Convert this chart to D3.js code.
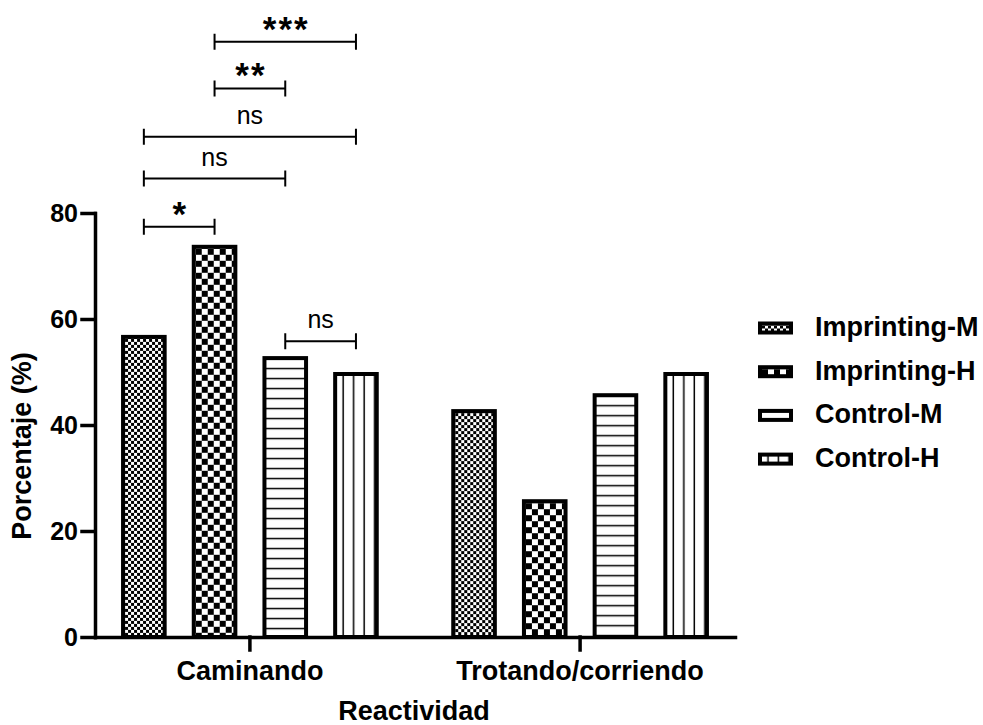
<!DOCTYPE html>
<html>
<head>
<meta charset="utf-8">
<script src="https://cdn.jsdelivr.net/npm/d3@7"></script>
<style>
  body { margin: 0; background: #fff; }
  text { font-family: "Liberation Sans", Arial, sans-serif; fill: #000; }
</style>
</head>
<body>
<script>
// data
const categories = ['Caminando', 'Trotando/corriendo'];
const series = ['Imprinting-M', 'Imprinting-H', 'Control-M', 'Control-H'];
const imprintingM = [57, 43];
const imprintingH = [74, 26];
const controlM = [53, 46];
const controlH = [50, 50];
const yTicks = [0, 20, 40, 60, 80];
// significance brackets (Caminando group): bars compared, height in % units
const bracketFrom = [0, 0, 0, 1, 1, 2];
const bracketTo = [1, 2, 3, 2, 3, 3];
const bracketLevel = [77.4, 86.5, 94.4, 103.5, 112.3, 55.8];
const bracketLabel = ['*', 'ns', 'ns', '**', '***', 'ns'];

const values = [imprintingM, imprintingH, controlM, controlH];
const patternKind = ['fine', 'coarse', 'hlines', 'vlines'];

const width = 983, height = 725;
const stroke = 4;

const svg = d3.select('body').append('svg')
    .attr('width', width)
    .attr('height', height);

const defs = svg.append('defs');

const x0 = d3.scaleBand().domain(categories).range([95, 735])
    .paddingInner(0.1435).paddingOuter(0.0409);
const x1 = d3.scaleBand().domain(series).range([0, x0.bandwidth()])
    .paddingInner(0.355).paddingOuter(0.1775);
const y = d3.scaleLinear().domain([0, 80]).range([637, 213]);

// one pattern per bar so the hatching starts at the bar's inner corner
function makePattern(id, kind, px, py) {
    const p = defs.append('pattern')
        .attr('id', id)
        .attr('patternUnits', 'userSpaceOnUse')
        .attr('x', px).attr('y', py);
    if (kind === 'fine') {
        p.attr('width', 6).attr('height', 6);
        p.append('rect').attr('width', 6).attr('height', 6).attr('fill', '#fff');
        p.append('rect').attr('width', 3).attr('height', 3).attr('fill', '#000');
        p.append('rect').attr('x', 3).attr('y', 3).attr('width', 3).attr('height', 3).attr('fill', '#000');
    } else if (kind === 'coarse') {
        p.attr('width', 12).attr('height', 12);
        p.append('rect').attr('width', 12).attr('height', 12).attr('fill', '#fff');
        p.append('rect').attr('width', 6).attr('height', 6).attr('fill', '#000');
        p.append('rect').attr('x', 6).attr('y', 6).attr('width', 6).attr('height', 6).attr('fill', '#000');
    } else if (kind === 'hlines') {
        p.attr('width', 10).attr('height', 10);
        p.append('rect').attr('width', 10).attr('height', 10).attr('fill', '#fff');
        p.append('rect').attr('y', 7.75).attr('width', 10).attr('height', 1.5).attr('fill', '#000');
    } else {
        p.attr('width', 10.5).attr('height', 10);
        p.append('rect').attr('width', 10.5).attr('height', 10).attr('fill', '#fff');
        p.append('rect').attr('x', 5.25).attr('width', 1.5).attr('height', 10).attr('fill', '#000');
    }
}

const bars = [];
categories.forEach((c, gi) => {
    series.forEach((s, si) => {
        bars.push({ cat: c, gi: gi, si: si, value: values[si][gi] });
    });
});

bars.forEach((d) => {
    const bx = x0(d.cat) + x1(series[d.si]) + stroke;
    const by = y(d.value) + stroke;
    makePattern(`bar-${d.gi}-${d.si}`, patternKind[d.si], bx, by);
});

svg.append('g').selectAll('rect').data(bars).join('rect')
    .attr('x', (d) => x0(d.cat) + x1(series[d.si]) + stroke / 2)
    .attr('y', (d) => y(d.value) + stroke / 2)
    .attr('width', x1.bandwidth() - stroke)
    .attr('height', (d) => y(0) - y(d.value) - stroke / 2)
    .attr('fill', (d) => `url(#bar-${d.gi}-${d.si})`)
    .attr('stroke', '#000')
    .attr('stroke-width', stroke);

// axes
const yAxis = d3.axisLeft(y).tickValues(yTicks).tickSize(13).tickSizeOuter(0).tickPadding(4);
const gy = svg.append('g').attr('transform', 'translate(95,0)').call(yAxis);
gy.selectAll('text').attr('font-size', 25).attr('font-weight', 'bold')
    .style('font-family', '"Liberation Sans", Arial, sans-serif');

const xAxis = d3.axisBottom(x0).tickSize(13).tickSizeOuter(0).tickPadding(11);
const gx = svg.append('g').attr('transform', `translate(0,${y(0)})`).call(xAxis);
gx.selectAll('text').attr('font-size', 27).attr('font-weight', 'bold')
    .style('font-family', '"Liberation Sans", Arial, sans-serif');

svg.selectAll('.domain, .tick line')
    .attr('stroke', '#000')
    .attr('stroke-width', 3.5)
    .attr('stroke-linecap', 'square');

svg.append('text')
    .attr('transform', 'translate(31,446) rotate(-90)')
    .attr('text-anchor', 'middle')
    .attr('font-size', 27)
    .attr('font-weight', 'bold')
    .text('Porcentaje (%)');

svg.append('text')
    .attr('x', 414)
    .attr('y', 720)
    .attr('text-anchor', 'middle')
    .attr('font-size', 27)
    .attr('font-weight', 'bold')
    .text('Reactividad');

// significance brackets
const barCenter = (si) => x0(categories[0]) + x1(series[si]) + x1.bandwidth() / 2;
const gb = svg.append('g');
bracketLabel.forEach((lab, i) => {
    const xa = barCenter(bracketFrom[i]);
    const xb = barCenter(bracketTo[i]);
    const yy = y(bracketLevel[i]);
    gb.append('path')
        .attr('d', `M${xa},${yy - 8}V${yy + 8}M${xa},${yy}H${xb}M${xb},${yy - 8}V${yy + 8}`)
        .attr('fill', 'none')
        .attr('stroke', '#000')
        .attr('stroke-width', 2);
    const stars = lab !== 'ns';
    gb.append('text')
        .attr('x', (xa + xb) / 2 + (stars ? 1 : 0))
        .attr('y', stars ? yy - 1 : yy - 13)
        .attr('text-anchor', 'middle')
        .attr('font-size', stars ? 35 : 25)
        .attr('font-weight', stars ? 'bold' : 'normal')
        .attr('letter-spacing', stars ? 2 : 0)
        .text(lab);
});

// legend
const legend = svg.append('g');
series.forEach((s, i) => {
    const cy = 328 + i * 43.7;
    const sw = 35, sh = 13;
    makePattern(`leg-${i}`, patternKind[i], 758 + stroke, cy - sh / 2 + stroke);
    legend.append('rect')
        .attr('x', 758 + stroke / 2)
        .attr('y', cy - sh / 2 + stroke / 2)
        .attr('width', sw - stroke)
        .attr('height', sh - stroke)
        .attr('fill', `url(#leg-${i})`)
        .attr('stroke', '#000')
        .attr('stroke-width', stroke);
    legend.append('text')
        .attr('x', 815)
        .attr('y', cy + 8)
        .attr('font-size', 27)
        .attr('font-weight', 'bold')
        .text(s);
});
</script>
</body>
</html>
